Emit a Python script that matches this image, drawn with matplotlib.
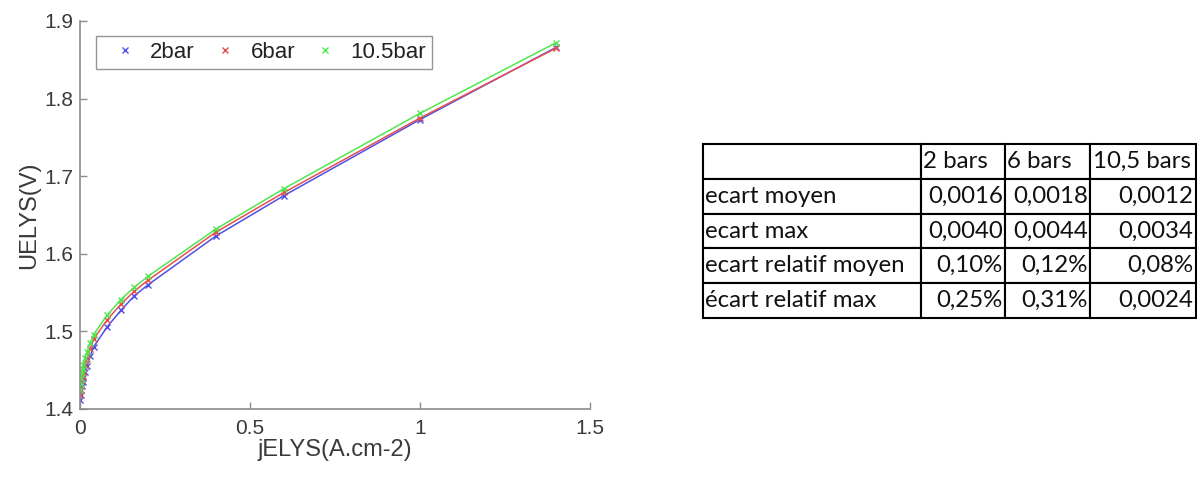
import matplotlib
matplotlib.use("Agg")
import matplotlib.pyplot as plt
from matplotlib.table import Table

# ---------------- data ----------------
j_values = [0.001, 0.002, 0.004, 0.006, 0.008, 0.01, 0.015, 0.02, 0.03, 0.04,
            0.08, 0.12, 0.16, 0.2, 0.4, 0.6, 1.0, 1.4]
u_2bar = [1.412, 1.418, 1.425, 1.430, 1.435, 1.440, 1.448, 1.455, 1.468, 1.480,
          1.506, 1.527, 1.546, 1.560, 1.623, 1.675, 1.773, 1.866]
u_6bar = [1.418, 1.424, 1.432, 1.438, 1.443, 1.448, 1.457, 1.464, 1.477, 1.490,
          1.515, 1.535, 1.552, 1.566, 1.628, 1.679, 1.775, 1.865]
u_10bar = [1.425, 1.432, 1.440, 1.446, 1.452, 1.457, 1.466, 1.473, 1.485, 1.496,
           1.521, 1.541, 1.557, 1.571, 1.632, 1.684, 1.781, 1.872]
series_labels = ["2bar", "6bar", "10.5bar"]

x_ticks = [0, 0.5, 1, 1.5]
x_tick_labels = ["0", "0.5", "1", "1.5"]
y_ticks = [1.4, 1.5, 1.6, 1.7, 1.8, 1.9]
y_tick_labels = ["1.4", "1.5", "1.6", "1.7", "1.8", "1.9"]

table_header = ["", "2 bars", "6 bars", "10,5 bars"]
table_rows = ["ecart moyen", "ecart max", "ecart relatif moyen", "écart relatif max"]
table_2bars = ["0,0016", "0,0040", "0,10%", "0,25%"]
table_6bars = ["0,0018", "0,0044", "0,12%", "0,31%"]
table_10bars = ["0,0012", "0,0034", "0,08%", "0,0024"]

# ---------------- figure ----------------
W, H = 1197, 479
fig = plt.figure(figsize=(W / 100, H / 100), dpi=100)
fig.patch.set_facecolor("white")

ax = fig.add_axes([80 / W, 1 - 409 / H, (590 - 80) / W, (409 - 21) / H])

colors = ["#5050e6", "#e65050", "#50e650"]
for ys, c, lab in zip([u_2bar, u_6bar, u_10bar], colors, series_labels):
    ax.plot(j_values, ys, color=c, lw=1.1)
    ax.plot(j_values, ys, linestyle="none", marker="x", ms=5, mew=1.0,
            color=c, label=lab)

ax.set_xlim(0, 1.5)
ax.set_ylim(1.4, 1.9)
ax.set_xticks(x_ticks)
ax.set_xticklabels(x_tick_labels)
ax.set_yticks(y_ticks)
ax.set_yticklabels(y_tick_labels)

axis_color = "#8c8c8c"
text_color = "#3a3a3a"
for s in ["top", "right"]:
    ax.spines[s].set_visible(False)
for s in ["left", "bottom"]:
    ax.spines[s].set_color(axis_color)
    ax.spines[s].set_linewidth(1.2)
ax.tick_params(direction="in", length=5, width=1, color=axis_color,
               labelcolor=text_color, labelsize=15, pad=5)
ax.tick_params(axis="x", pad=7)

font = ["Liberation Sans", "DejaVu Sans"]
for lbl in ax.get_xticklabels() + ax.get_yticklabels():
    lbl.set_family(font)

ax.set_xlabel("jELYS(A.cm-2)", fontsize=17, color=text_color, family=font,
              labelpad=1)
ax.set_ylabel("UELYS(V)", fontsize=17, color=text_color, family=font,
              labelpad=3)

leg = ax.legend(loc="upper left", bbox_to_anchor=(96 / W, 1 - 36 / H),
                bbox_transform=fig.transFigure, ncol=3, frameon=True,
                fancybox=False, borderaxespad=0, handlelength=2.1,
                handletextpad=0.08, columnspacing=0.32, borderpad=0.26,
                prop={"family": font, "size": 16})
leg.get_frame().set_edgecolor("#7a7a7a")
leg.get_frame().set_linewidth(1.0)
for t in leg.get_texts():
    t.set_color("#222222")

# ---------------- table ----------------
tx0, tx1 = 703, 1196
ty0, ty1 = 144, 318
tax = fig.add_axes([tx0 / W, 1 - ty1 / H, (tx1 - tx0) / W, (ty1 - ty0) / H])
tax.set_axis_off()
tbl = Table(tax, bbox=[0, 0, 1, 1])
col_w = [218, 84, 85, 106]
tot = float(sum(col_w))
col_w = [w / tot for w in col_w]
n_rows = len(table_rows) + 1
row_h = 1.0 / n_rows
tfont = ["Lato", "DejaVu Sans"]

grid = [table_header] + [[r, a, b, c] for r, a, b, c in
                         zip(table_rows, table_2bars, table_6bars, table_10bars)]
for i, row in enumerate(grid):
    for k, txt in enumerate(row):
        if i == 0 or k == 0:
            loc = "left"
        else:
            loc = "right"
        cell = tbl.add_cell(i, k, width=col_w[k], height=row_h, text=txt,
                            loc=loc, edgecolor="black", facecolor="white")
        cell.PAD = 0.008 if k == 0 else 0.025
        cell.set_linewidth(1.5)
        cell.get_text().set_fontsize(17.3)
        cell.get_text().set_family(tfont)
        cell.get_text().set_color("#111111")
tbl.auto_set_font_size(False)
tax.add_table(tbl)

fig.savefig("out.png", dpi=100, facecolor="white")
